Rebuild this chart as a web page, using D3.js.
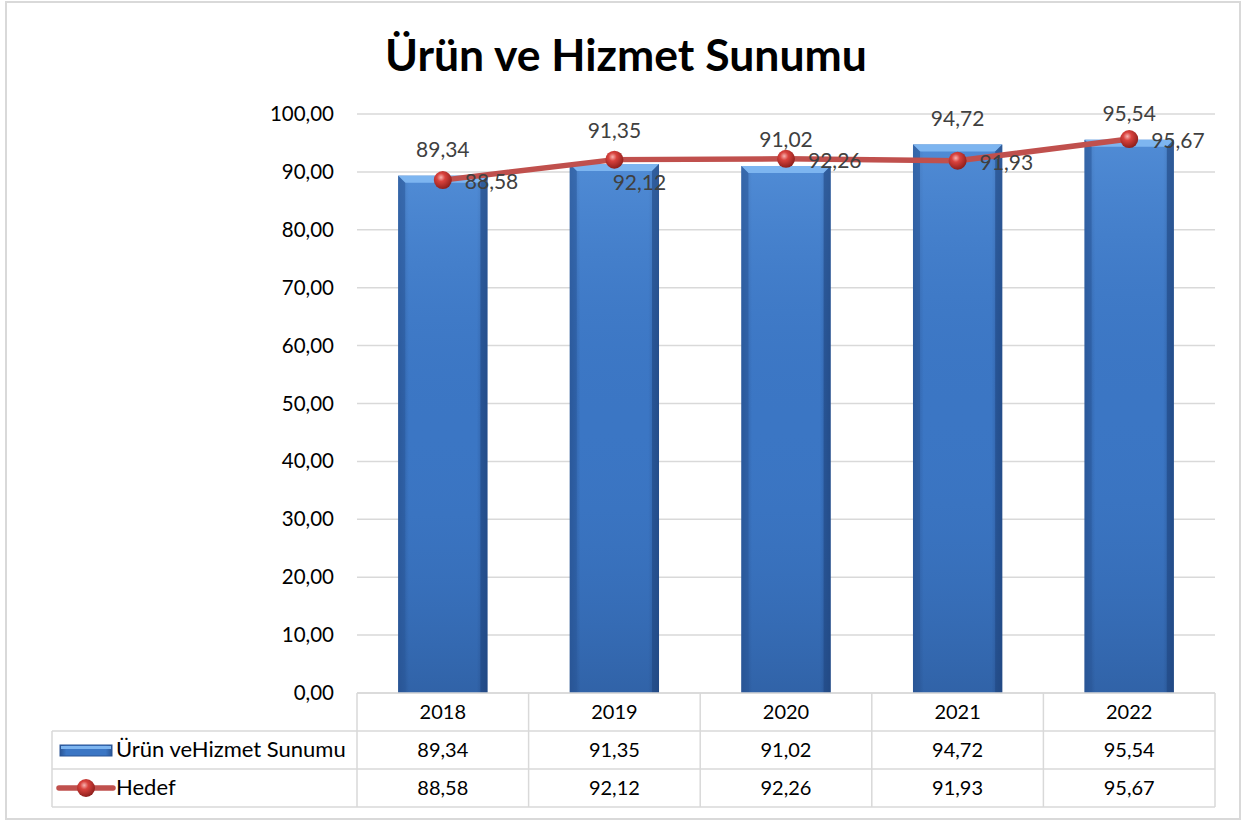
<!DOCTYPE html>
<html>
<head>
<meta charset="utf-8">
<script src="https://cdn.jsdelivr.net/npm/d3@7"></script>
<style>
  body { margin: 0; background: #fff; }
  text { font-family: "Lato", "Open Sans", sans-serif; }
</style>
</head>
<body>
<script>
// chart data
const years = ["2018", "2019", "2020", "2021", "2022"];
const sunum = [89.34, 91.35, 91.02, 94.72, 95.54];
const hedef = [88.58, 92.12, 92.26, 91.93, 95.67];
const yTicks = [0, 10, 20, 30, 40, 50, 60, 70, 80, 90, 100];
const seriesNames = ["Ürün veHizmet Sunumu", "Hedef"];
const title = "Ürün ve Hizmet Sunumu";
// where the line labels sit (excel moved one of them down)
const hedefLabelPos = ["right", "below", "right", "right", "right"];

const W = 1242, H = 823;
const plotLeft = 357, plotRight = 1215, plotTop = 114, plotBottom = 693;
const tableLeft = 52, rowH = 38;

const fmt = v => v.toFixed(2).replace(".", ",");

const svg = d3.select("body").append("svg")
    .attr("width", W)
    .attr("height", H);

const defs = svg.append("defs");

// bar body: dark edges left/right
const barGrad = defs.append("linearGradient").attr("id", "barGrad")
    .attr("x1", 0).attr("x2", 1).attr("y1", 0).attr("y2", 0);
barGrad.append("stop").attr("offset", "0%").attr("stop-color", "#2a5595");
barGrad.append("stop").attr("offset", "12%").attr("stop-color", "#3b76c4");
barGrad.append("stop").attr("offset", "88%").attr("stop-color", "#3b76c4");
barGrad.append("stop").attr("offset", "100%").attr("stop-color", "#2a5595");

// vertical shading, lighter at top
const barShade = defs.append("linearGradient").attr("id", "barShade")
    .attr("x1", 0).attr("x2", 0).attr("y1", 0).attr("y2", 1);
barShade.append("stop").attr("offset", "0%").attr("stop-color", "#6aa6ea").attr("stop-opacity", 0.45);
barShade.append("stop").attr("offset", "50%").attr("stop-color", "#3a73c0").attr("stop-opacity", 0);
barShade.append("stop").attr("offset", "100%").attr("stop-color", "#1d3f73").attr("stop-opacity", 0.35);

const dotGrad = defs.append("radialGradient").attr("id", "dotGrad")
    .attr("cx", "40%").attr("cy", "35%").attr("r", "65%");
dotGrad.append("stop").attr("offset", "0%").attr("stop-color", "#f7b3b0");
dotGrad.append("stop").attr("offset", "35%").attr("stop-color", "#d9423d");
dotGrad.append("stop").attr("offset", "100%").attr("stop-color", "#8e1f1c");

// outer frame
svg.append("rect")
    .attr("x", 6).attr("y", 2)
    .attr("width", 1234).attr("height", 817)
    .attr("fill", "none")
    .attr("stroke", "#d9d9d9")
    .attr("stroke-width", 2);

svg.append("text")
    .attr("x", 626).attr("y", 71)
    .attr("text-anchor", "middle")
    .attr("font-size", 44.5)
    .attr("font-weight", "bold")
    .attr("fill", "#000")
    .text(title);

const x = d3.scaleBand()
    .domain(years)
    .range([plotLeft, plotRight])
    .paddingInner(0.48)
    .paddingOuter(0.24);

const y = d3.scaleLinear()
    .domain([0, 100])
    .range([plotBottom, plotTop]);

// grid
svg.append("g")
    .selectAll("line")
    .data(yTicks)
    .join("line")
    .attr("x1", plotLeft).attr("x2", plotRight)
    .attr("y1", d => y(d)).attr("y2", d => y(d))
    .attr("stroke", "#d9d9d9")
    .attr("stroke-width", 1.5);

// y axis labels
svg.append("g")
    .selectAll("text")
    .data(yTicks)
    .join("text")
    .attr("x", 334)
    .attr("y", d => y(d) + 7)
    .attr("text-anchor", "end")
    .attr("font-size", 20.5)
    .attr("fill", "#000")
    .text(fmt);

// bars
const bars = svg.append("g");
const bev = 7;
years.forEach((yr, i) => {
    const bx = x(yr), bw = x.bandwidth(), by = y(sunum[i]), bh = plotBottom - by;
    const g = bars.append("g");
    g.append("rect")
        .attr("x", bx).attr("y", by)
        .attr("width", bw).attr("height", bh)
        .attr("fill", "url(#barGrad)");
    g.append("rect")
        .attr("x", bx).attr("y", by)
        .attr("width", bw).attr("height", bh)
        .attr("fill", "url(#barShade)");
    // bevel on top
    g.append("path")
        .attr("d", `M${bx},${by} L${bx + bw},${by} L${bx + bw - bev},${by + bev} L${bx + bev},${by + bev} Z`)
        .attr("fill", "#7db5f0");
    g.append("path")
        .attr("d", `M${bx},${by} L${bx + bev},${by + bev} L${bx + bev},${plotBottom} L${bx},${plotBottom} Z`)
        .attr("fill", "#2b5a9c").attr("opacity", 0.6);
    g.append("path")
        .attr("d", `M${bx + bw},${by} L${bx + bw - bev},${by + bev} L${bx + bw - bev},${plotBottom} L${bx + bw},${plotBottom} Z`)
        .attr("fill", "#1f4680").attr("opacity", 0.6);
});

// bar value labels
svg.append("g")
    .selectAll("text")
    .data(sunum)
    .join("text")
    .attr("x", (d, i) => x(years[i]) + x.bandwidth() / 2)
    .attr("y", (d, i) => y(d) - (hedefLabelPos[i] === "below" ? 26 : 19))
    .attr("text-anchor", "middle")
    .attr("font-size", 21)
    .attr("fill", "#404040")
    .text(fmt);

// line
const cx = i => x(years[i]) + x.bandwidth() / 2;
const line = d3.line()
    .x((d, i) => cx(i))
    .y(d => y(d));

svg.append("path")
    .datum(hedef)
    .attr("d", line)
    .attr("fill", "none")
    .attr("stroke", "#c0504d")
    .attr("stroke-width", 5.5)
    .attr("stroke-linejoin", "round");

svg.append("g")
    .selectAll("circle")
    .data(hedef)
    .join("circle")
    .attr("cx", (d, i) => cx(i))
    .attr("cy", d => y(d))
    .attr("r", 9)
    .attr("fill", "url(#dotGrad)");

svg.append("g")
    .selectAll("text")
    .data(hedef)
    .join("text")
    .attr("x", (d, i) => cx(i) + (hedefLabelPos[i] === "below" ? 25 : 22))
    .attr("y", (d, i) => y(d) + (hedefLabelPos[i] === "below" ? 30 : 9))
    .attr("text-anchor", (d, i) => hedefLabelPos[i] === "below" ? "middle" : "start")
    .attr("font-size", 21)
    .attr("fill", "#404040")
    .text(fmt);

// data table
const tbl = svg.append("g");
const gridColor = "#d9d9d9";
const edges = d3.range(years.length + 1).map(i => plotLeft + i * (plotRight - plotLeft) / years.length);

// horizontal lines
[[plotLeft, plotBottom], [tableLeft, plotBottom + rowH], [tableLeft, plotBottom + 2 * rowH], [tableLeft, plotBottom + 3 * rowH]]
    .forEach(([x0, yy]) => {
        tbl.append("line")
            .attr("x1", x0).attr("x2", plotRight)
            .attr("y1", yy).attr("y2", yy)
            .attr("stroke", gridColor).attr("stroke-width", 1.5);
    });
edges.forEach(ex => {
    tbl.append("line")
        .attr("x1", ex).attr("x2", ex)
        .attr("y1", plotBottom).attr("y2", plotBottom + 3 * rowH)
        .attr("stroke", gridColor).attr("stroke-width", 1.5);
});
tbl.append("line")
    .attr("x1", tableLeft).attr("x2", tableLeft)
    .attr("y1", plotBottom + rowH).attr("y2", plotBottom + 3 * rowH)
    .attr("stroke", gridColor).attr("stroke-width", 1.5);

const rows = [years, sunum.map(fmt), hedef.map(fmt)];
rows.forEach((row, r) => {
    tbl.append("g")
        .selectAll("text")
        .data(row)
        .join("text")
        .attr("x", (d, i) => (edges[i] + edges[i + 1]) / 2)
        .attr("y", plotBottom + r * rowH + 26)
        .attr("text-anchor", "middle")
        .attr("font-size", 20)
        .attr("fill", "#000")
        .text(d => d);
});

// legend keys in the table
const k1y = plotBottom + rowH + rowH / 2;
tbl.append("rect")
    .attr("x", 60).attr("y", k1y - 5)
    .attr("width", 52).attr("height", 11)
    .attr("fill", "url(#barGrad)")
    .attr("stroke", "#2a5595").attr("stroke-width", 1);
tbl.append("rect")
    .attr("x", 61).attr("y", k1y - 4)
    .attr("width", 50).attr("height", 3)
    .attr("fill", "#7db5f0");
tbl.append("text")
    .attr("x", 116).attr("y", k1y + 7)
    .attr("font-size", 22)
    .attr("fill", "#000")
    .text(seriesNames[0]);

const k2y = plotBottom + 2 * rowH + rowH / 2;
tbl.append("line")
    .attr("x1", 59).attr("x2", 113)
    .attr("y1", k2y).attr("y2", k2y)
    .attr("stroke", "#c0504d").attr("stroke-width", 5.5)
    .attr("stroke-linecap", "round");
tbl.append("circle")
    .attr("cx", 86).attr("cy", k2y).attr("r", 9)
    .attr("fill", "url(#dotGrad)");
tbl.append("text")
    .attr("x", 116).attr("y", k2y + 7)
    .attr("font-size", 22)
    .attr("fill", "#000")
    .text(seriesNames[1]);
</script>
</body>
</html>
